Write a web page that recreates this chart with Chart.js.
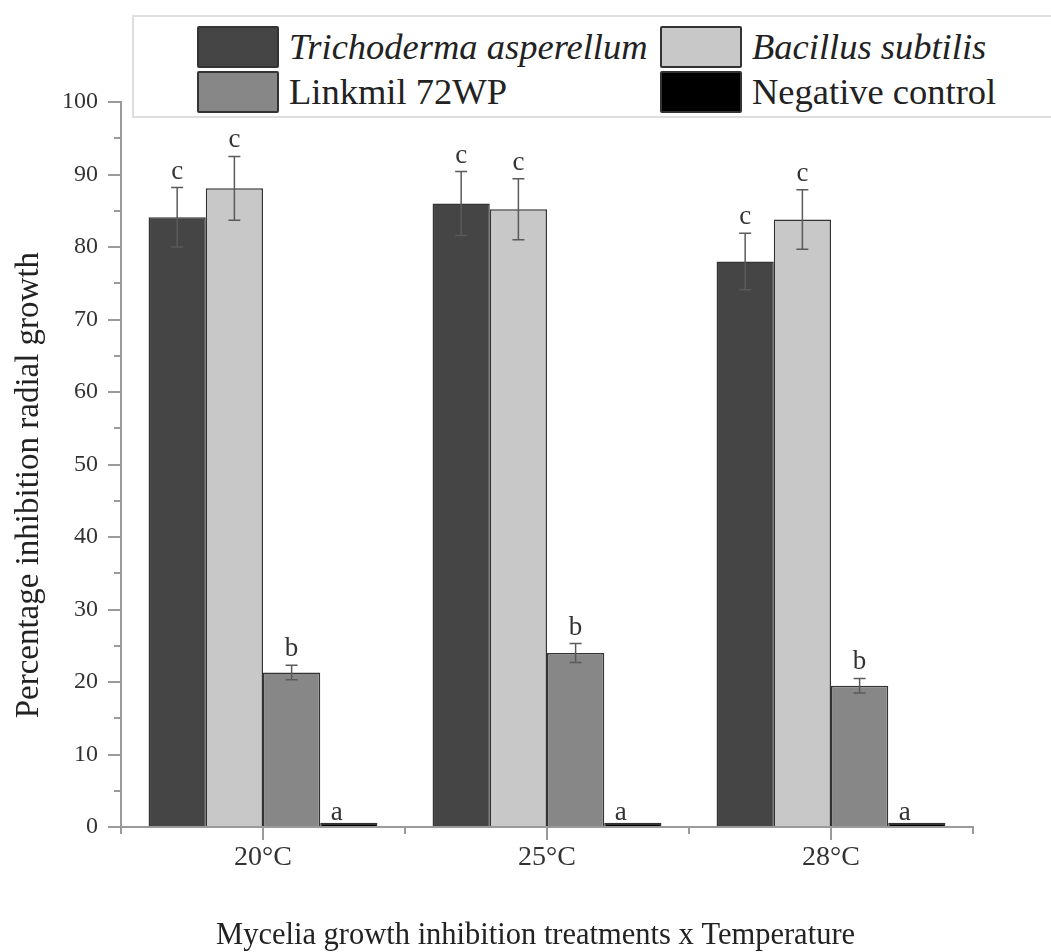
<!DOCTYPE html>
<html>
<head>
<meta charset="utf-8">
<script src="https://cdn.jsdelivr.net/npm/chart.js@4.4.1/dist/chart.umd.min.js"></script>
<style>
  html, body { margin: 0; padding: 0; background: #fff; }
  #wrap { position: relative; width: 1051px; height: 952px; overflow: hidden; }
  #chart { position: absolute; left: 0; top: 0; }
  #legend {
    position: absolute; left: 132px; top: 15px; width: 940px; height: 103px;
    border: 2px solid #dedede; background: #fff; box-sizing: border-box;
    font-family: "Liberation Serif", "Times New Roman", serif; color: #222;
  }
  .item { position: absolute; display: flex; align-items: center; height: 40px; }
  .sw { width: 78px; height: 38px; border: 2px solid #333; border-radius: 2px; box-sizing: content-box; }
  .lab { font-size: 36.5px; margin-left: 10px; white-space: nowrap; line-height: 40px; }
  .it { font-style: italic; }
</style>
</head>
<body>
<div id="wrap">
  <canvas id="chart" width="1051" height="952"></canvas>
  <div id="legend"></div>
</div>
<script>
// Temperatures on the x axis
const temperatures = ['20°C', '25°C', '28°C'];

// Treatment names
const treatmentNames = ['Trichoderma asperellum', 'Bacillus subtilis', 'Linkmil 72WP', 'Negative control'];

// Mean percentage inhibition of radial growth per temperature
const trichodermaValues = [84.1, 86.0, 78.0];
const bacillusValues    = [88.1, 85.2, 83.8];
const linkmilValues     = [21.3, 24.0, 19.5];
const controlValues     = [0.6, 0.6, 0.6];

// Standard deviations (error bars)
const trichodermaErrors = [4.1, 4.4, 3.9];
const bacillusErrors    = [4.4, 4.2, 4.1];
const linkmilErrors     = [1.0, 1.3, 1.0];
const controlErrors     = [0, 0, 0];

// Significance letters
const trichodermaLetters = ['c', 'c', 'c'];
const bacillusLetters    = ['c', 'c', 'c'];
const linkmilLetters     = ['b', 'b', 'b'];
const controlLetters     = ['a', 'a', 'a'];

// Y axis range and ticks
const yMin = 0, yMax = 100, yMajorStep = 10, yMinorStep = 5;

const fillColors = ['#454545', '#c8c8c8', '#878787', '#000000'];
const italicNames = [true, true, false, false];

const series = [
  { values: trichodermaValues, errors: trichodermaErrors, letters: trichodermaLetters, dx: 0 },
  { values: bacillusValues,    errors: bacillusErrors,    letters: bacillusLetters,    dx: 0 },
  { values: linkmilValues,     errors: linkmilErrors,     letters: linkmilLetters,     dx: 0 },
  { values: controlValues,     errors: controlErrors,     letters: controlLetters,     dx: -12 }
];

const serif = '"Liberation Serif", "Times New Roman", serif';
const axisGray = '#9a9a9a';

// Error bars and significance letters, positioned through the chart scales
const annotatePlugin = {
  id: 'annotate',
  afterDatasetsDraw(chart) {
    const { ctx, scales: { y } } = chart;
    ctx.save();
    series.forEach((s, di) => {
      const meta = chart.getDatasetMeta(di);
      meta.data.forEach((bar, i) => {
        const v = s.values[i], e = s.errors[i];
        const x = bar.x;
        if (e > 0) {
          const yTop = y.getPixelForValue(v + e);
          const yBot = y.getPixelForValue(v - e);
          ctx.strokeStyle = '#5a5a5a';
          ctx.lineWidth = 1.5;
          ctx.beginPath();
          ctx.moveTo(x, yTop); ctx.lineTo(x, yBot);
          ctx.moveTo(x - 6, yTop); ctx.lineTo(x + 6, yTop);
          ctx.moveTo(x - 6, yBot); ctx.lineTo(x + 6, yBot);
          ctx.stroke();
        }
        const top = y.getPixelForValue(v + e);
        ctx.fillStyle = '#333';
        ctx.font = '27px ' + serif;
        ctx.textAlign = 'center';
        ctx.textBaseline = 'alphabetic';
        ctx.fillText(s.letters[i], x + s.dx, top - (e > 0 ? 9 : 3));
      });
    });
    ctx.restore();
  },
  afterDraw(chart) {
    // minor ticks: y every 5 units, x at category boundaries
    const { ctx, scales: { y }, chartArea } = chart;
    ctx.save();
    ctx.strokeStyle = axisGray;
    ctx.lineWidth = 2;
    ctx.beginPath();
    for (let v = yMin + yMinorStep; v < yMax; v += yMajorStep) {
      const py = Math.round(y.getPixelForValue(v));
      ctx.moveTo(chartArea.left - 7, py); ctx.lineTo(chartArea.left, py);
    }
    const w = (chartArea.right - chartArea.left) / temperatures.length;
    for (let k = 0; k <= temperatures.length; k++) {
      const px = chartArea.left + k * w;
      ctx.moveTo(px, chartArea.bottom); ctx.lineTo(px, chartArea.bottom + 7);
    }
    ctx.stroke();
    ctx.restore();
  }
};

new Chart(document.getElementById('chart'), {
  type: 'bar',
  data: {
    labels: temperatures,
    datasets: series.map((s, i) => ({
      label: treatmentNames[i],
      data: s.values,
      backgroundColor: fillColors[i],
      borderColor: '#333',
      borderWidth: 1.5,
      categoryPercentage: 0.806,
      barPercentage: 1.0
    }))
  },
  options: {
    responsive: false,
    animation: false,
    devicePixelRatio: 1,
    layout: { padding: { left: 0, right: 78, top: 102, bottom: 0 } },
    plugins: { legend: { display: false }, tooltip: { enabled: false } },
    scales: {
      x: {
        grid: { display: true, drawOnChartArea: false, offset: false, tickLength: 13, color: axisGray, lineWidth: 2 },
        border: { display: true, color: axisGray, width: 2 },
        ticks: { font: { family: serif, size: 28 }, color: '#333', padding: 1 },
        title: {
          display: true,
          // trailing spaces move the centred label slightly left
          text: 'Mycelia growth inhibition treatments x Temperature\u2002 ',
          font: { family: serif, size: 30.5, lineHeight: 1.0 },
          color: '#222',
          padding: { top: 0, bottom: 1 }
        },
        afterFit(scale) { scale.height = 125; }
      },
      y: {
        min: yMin, max: yMax,
        grid: { display: true, drawOnChartArea: false, tickLength: 13, color: axisGray, lineWidth: 2 },
        border: { display: true, color: axisGray, width: 2 },
        ticks: { stepSize: yMajorStep, font: { family: serif, size: 24 }, color: '#333', padding: 10 },
        title: {
          display: true,
          // trailing en spaces lower the centred label a little
          text: 'Percentage inhibition radial growth\u2002\u2002 ',
          font: { family: serif, size: 33, lineHeight: 1.0 },
          color: '#222',
          padding: { top: 13, bottom: 0 }
        },
        afterFit(scale) { scale.width = 121; }
      }
    }
  },
  plugins: [annotatePlugin]
});

// Two-by-two legend
const legend = document.getElementById('legend');
const cells = [
  { col: 0, row: 0 }, { col: 1, row: 0 }, { col: 0, row: 1 }, { col: 1, row: 1 }
];
const colLeft = [63, 526];
const rowTop = [10, 55];
treatmentNames.forEach((name, i) => {
  const item = document.createElement('div');
  item.className = 'item';
  item.style.left = colLeft[cells[i].col] + 'px';
  item.style.top = rowTop[cells[i].row] + 'px';
  const sw = document.createElement('div');
  sw.className = 'sw';
  sw.style.background = fillColors[i];
  const lab = document.createElement('span');
  lab.className = 'lab' + (italicNames[i] ? ' it' : '');
  lab.textContent = name;
  item.appendChild(sw);
  item.appendChild(lab);
  legend.appendChild(item);
});
</script>
</body>
</html>
